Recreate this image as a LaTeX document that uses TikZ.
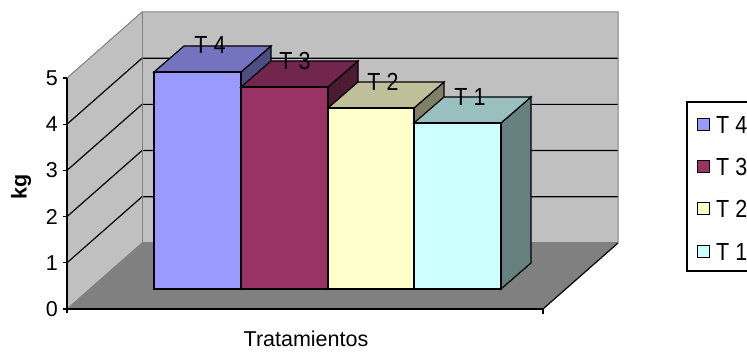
\documentclass[tikz,border=0pt]{standalone}
\usepackage{fontspec}
\setmainfont{Liberation Sans}
\definecolor{wall}{RGB}{192,192,192}
\definecolor{floorc}{RGB}{128,128,128}
\definecolor{edgec}{RGB}{128,128,128}
\definecolor{fa}{RGB}{153,153,255}\definecolor{ta}{RGB}{115,115,191}\definecolor{sa}{RGB}{77,77,128}
\definecolor{fb}{RGB}{153,51,102}\definecolor{tb}{RGB}{115,38,77}\definecolor{sb}{RGB}{77,26,51}
\definecolor{fc}{RGB}{255,255,204}\definecolor{tc}{RGB}{191,191,153}\definecolor{sc}{RGB}{128,128,102}
\definecolor{fd}{RGB}{204,255,255}\definecolor{td}{RGB}{153,191,191}\definecolor{sd}{RGB}{102,128,128}
\begin{document}
\begin{tikzpicture}[x=1pt,y=-1pt,
  lbl/.style={font=\fontsize{21.5}{24}\selectfont, inner sep=0pt},
  tall/.style={lbl, yscale=1.15},
  grid/.style={black, line width=1.2pt},
  wedge/.style={edgec, line width=1pt},
  barline/.style={black, line width=1.2pt, line join=miter}]
\useasboundingbox (0,0) rectangle (747,352);
% walls and floor
\fill[wall] (67,78) -- (142,12) -- (142,243) -- (67,309) -- cycle;
\fill[wall] (142,12) rectangle (618,243);
\fill[floorc] (67,309) -- (142,243) -- (618,243) -- (543,309) -- cycle;
% gridlines
\foreach \k in {1,2,3,4}{
  \draw[grid] (67,{309-46.2*\k}) -- (142,{243-46.2*\k}) -- (618,{243-46.2*\k});
}
% wall edges
\draw[wedge] (67,78) -- (142,12) -- (618,12) -- (618,243);
\draw[wedge] (142,12) -- (142,243) -- (618,243);
\draw[wedge] (67,309) -- (142,243);
\draw[black, line width=1.2pt] (618,243) -- (543,309);
% axes
\draw[black, line width=1.4pt] (67,78) -- (67,313);
\draw[black, line width=1.4pt] (67,309) -- (543,309) -- (543,314);
\foreach \k in {0,...,5}{
  \draw[black, line width=1.2pt] (63,{309-46.2*\k}) -- (67,{309-46.2*\k});
  \node[lbl, anchor=east] (y\k) at (58,{309-46.2*\k}) {\k};
}
% bars: x1, x2, top
\newcommand{\chartbar}[6]{%
  \filldraw[barline, fill=#6] (#2,289) -- (#2,#3) -- (#2+30,#3-26) -- (#2+30,263) -- cycle;
  \filldraw[barline, fill=#5] (#1,#3) -- (#2,#3) -- (#2+30,#3-26) -- (#1+30,#3-26) -- cycle;
  \filldraw[barline, fill=#4] (#1,289) rectangle (#2,#3);
}
\chartbar{154}{241}{72}{fa}{ta}{sa}
\chartbar{241}{328}{87}{fb}{tb}{sb}
\chartbar{328}{414}{108}{fc}{tc}{sc}
\chartbar{414}{501}{123}{fd}{td}{sd}
% bar labels
\node[tall, anchor=base] (l4) at (210,54) {T 4};
\node[tall, anchor=base] (l3) at (295,70) {T 3};
\node[tall, anchor=base] (l2) at (383,91) {T 2};
\node[tall, anchor=base] (l1) at (470,106) {T 1};
% axis titles
\node[lbl, font=\fontsize{21.5}{24}\selectfont\bfseries, rotate=90] (kg) at (21,187) {kg};
\node[lbl, anchor=base] (xt) at (306,347) {Tratamientos};
% legend
\draw[black, line width=1.2pt] (750,102) -- (687,102) -- (687,271) -- (750,271);
\foreach \c/\t/\yy in {fa/4/125, fb/3/167, fc/2/209, fd/1/252}{
  \filldraw[black, line width=1pt, fill=\c] (697,\yy-6) rectangle (709,\yy+6);
  \node[tall, anchor=west] (leg\t) at (716,\yy) {T \t};
}
\end{tikzpicture}
\end{document}
